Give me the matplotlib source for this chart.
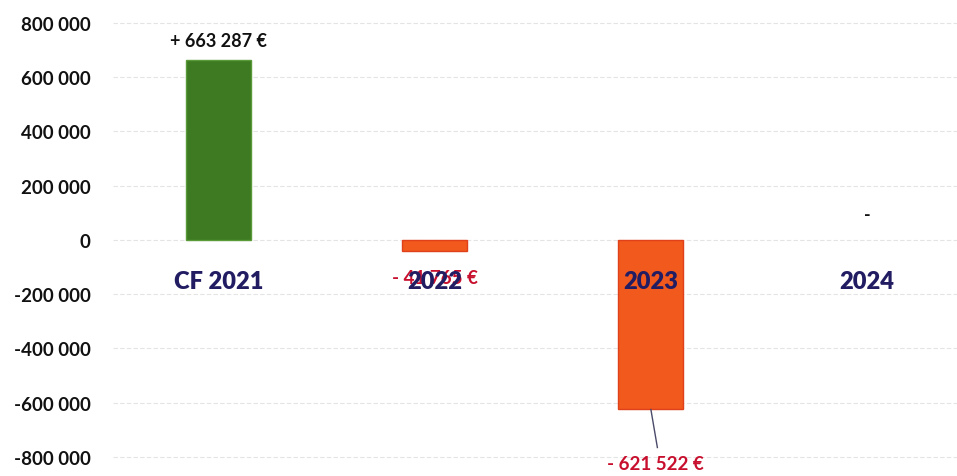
import numpy as np
import matplotlib.pyplot as plt
from matplotlib.ticker import FuncFormatter

# Données
categories = ['CF 2021', '2022', '2023', '2024']
valeurs = [663287, -41765, -621522, 0]
etiquettes = ['+ 663 287 €', '- 41 765 €', '- 621 522 €', '-']
yticks = [-800000, -600000, -400000, -200000, 0, 200000, 400000, 600000, 800000]

plt.rcParams['font.family'] = ['Lato', 'DejaVu Sans']

fig = plt.figure(figsize=(9.57, 4.77), dpi=100)
ax = fig.add_axes([113 / 957, 0, 1 - 113 / 957, 1])

x = np.arange(len(categories))
couleurs = ['#3d7a22' if v > 0 else '#f15a1c' for v in valeurs]
bords = ['#5a9a38' if v > 0 else '#e0401a' for v in valeurs]
largeurs = [1 if v != 0 else 0 for v in valeurs]
ax.bar(x, valeurs, width=0.3, color=couleurs, edgecolor=bords, linewidth=largeurs, zorder=2)

ax.set_xlim(-0.49, 3.417)
ax.set_ylim(-870000, 888000)
ax.set_yticks(yticks)
ax.yaxis.set_major_formatter(FuncFormatter(lambda v, p: f'{int(v):,}'.replace(',', ' ')))
ax.tick_params(axis='y', length=0, pad=16, labelsize=13.5, labelcolor='#111111')
for lab in ax.get_yticklabels():
    lab.set_fontweight('bold')
ax.set_xticks([])
ax.grid(axis='y', color='#e4e4e4', linestyle=(0, (4, 2)), linewidth=0.8, zorder=0)
for s in ax.spines.values():
    s.set_visible(False)

# Noms des catégories, placés sous l'axe zéro
for i, c in enumerate(categories):
    ax.text(i, -150000, c, ha='center', va='center', fontsize=17, fontweight='heavy',
            color='#221d62', zorder=4)

# Étiquettes de valeurs
ax.text(0, 735000, etiquettes[0], ha='center', va='center', fontsize=13,
        fontweight='bold', color='#111111')
ax.text(1, -140000, etiquettes[1], ha='center', va='center', fontsize=13.5,
        fontweight='bold', color='#c8102e', zorder=3)
ax.text(2.02, -825000, etiquettes[2], ha='center', va='center', fontsize=13.5,
        fontweight='bold', color='#c8102e')
ax.plot([2.0, 2.03], [-625000, -765000], color='#4a4a6a', linewidth=1)
ax.text(3, 95000, etiquettes[3], ha='center', va='center', fontsize=13,
        fontweight='bold', color='#111111')

fig.savefig('out.png', dpi=100)
